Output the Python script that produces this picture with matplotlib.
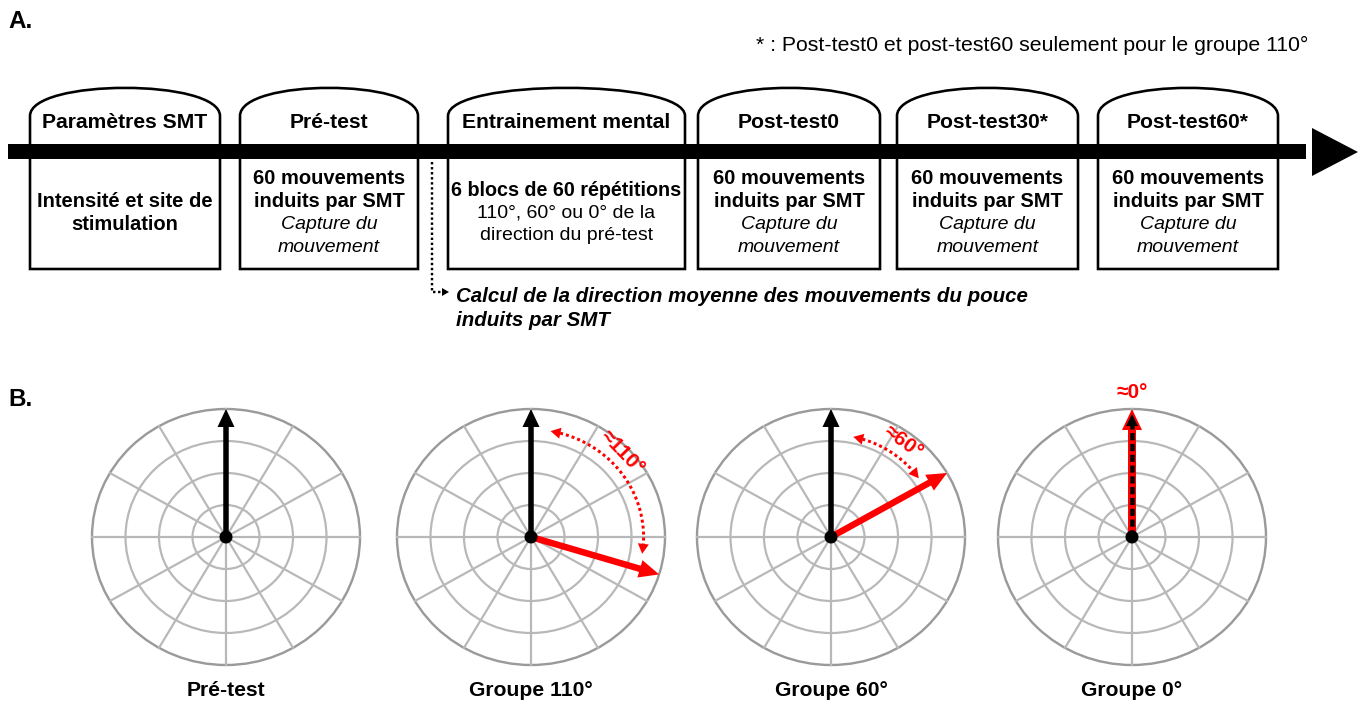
import matplotlib
matplotlib.use("Agg")
import matplotlib.pyplot as plt
import numpy as np
from matplotlib.path import Path
from matplotlib.patches import PathPatch, Ellipse, Polygon, Rectangle

plt.rcParams['font.family'] = ['Liberation Sans', 'DejaVu Sans']

# ---------------- data ----------------
stage_titles = ["Paramètres SMT", "Pré-test", "Entrainement mental",
                "Post-test0", "Post-test30*", "Post-test60*"]
stage_x0 = [30, 240, 448, 698, 897, 1098]
stage_x1 = [220, 418, 685, 880, 1078, 1278]
mvt = [("60 mouvements", "bold"), ("induits par SMT", "bold"),
       ("Capture du", "italic"), ("mouvement", "italic")]
stage_lines = [
    [("Intensité et site de", "bold"), ("stimulation", "bold")],
    mvt,
    [("6 blocs de 60 répétitions", "bold"), ("110°, 60° ou 0° de la", "normal"),
     ("direction du pré-test", "normal")],
    mvt, mvt, mvt,
]
footnote = "* : Post-test0 et post-test60 seulement pour le groupe 110°"
calcul_lines = ["Calcul de la direction moyenne des mouvements du pouce",
                "induits par SMT"]

group_names = ["Pré-test", "Groupe 110°", "Groupe 60°", "Groupe 0°"]
group_cx = [226, 531, 831, 1132]
red_angles = [None, 107, 60, 0]          # red arrow direction (deg, clockwise from up)
arc_span = [None, (10, 99), (12, 55), None]
arc_radius = [None, 0.84, 0.80, None]
arc_labels = [None, "≈110°", "≈60°", "≈0°"]
label_pos = [None, (46, 0.95), (36, 0.92), None]

RED = "#ff0000"
W, H = 1365, 707
fig = plt.figure(figsize=(W / 100, H / 100), dpi=100)
ax = fig.add_axes([0, 0, 1, 1])
ax.set_xlim(0, W)
ax.set_ylim(H, 0)
ax.axis("off")

PT = 72 / 100.0  # points per pixel

# ---------------- Section A ----------------
ax.text(8, 22, "A.", fontsize=17.5, fontweight="bold", va="center", ha="left")
ax.text(1308, 45, footnote, fontsize=15.3, ha="right", va="center")

bar_top, bar_bot = 144, 159
for k, (t, x0, x1) in enumerate(zip(stage_titles, stage_x0, stage_x1)):
    verts = [(x0, 269), (x0, 116),
             (x0, 78.5), (x1, 78.5), (x1, 116),
             (x1, 269), (x0, 269)]
    codes = [Path.MOVETO, Path.LINETO,
             Path.CURVE4, Path.CURVE4, Path.CURVE4,
             Path.LINETO, Path.CLOSEPOLY]
    ax.add_patch(PathPatch(Path(verts, codes), facecolor="white", edgecolor="black",
                           lw=2.6 * PT, zorder=2, joinstyle="miter"))
    cx = (x0 + x1) / 2
    ax.text(cx, 123, t, fontsize=15.2, fontweight="bold", ha="center", va="center", zorder=5)
    lines = stage_lines[k]
    n = len(lines)
    for i, (s, st) in enumerate(lines):
        y = 213 + (i - (n - 1) / 2) * 23
        if st == "bold":
            fs = 14.5 if len(s) < 22 else 14.2
            ax.text(cx, y, s, fontsize=fs, fontweight="bold", ha="center", va="center", zorder=5)
        elif st == "italic":
            ax.text(cx, y, s, fontsize=14, fontstyle="italic", ha="center", va="center", zorder=5)
        else:
            ax.text(cx, y, s, fontsize=14, ha="center", va="center", zorder=5)

# timeline bar + arrow head
ax.add_patch(Rectangle((8, bar_top), 1306 - 8, bar_bot - bar_top, facecolor="black",
                       edgecolor="none", zorder=4))
ax.add_patch(Polygon([(1312, 128), (1358, 152), (1312, 176)], closed=True,
                     facecolor="black", edgecolor="none", zorder=4))

# dotted connector
ax.plot([432, 432, 443], [162, 292, 292], color="black", lw=2.4 * PT,
        linestyle=(0, (1, 1.1)), zorder=3)
ax.add_patch(Polygon([(442, 288), (449, 292), (442, 296)], closed=True,
                     facecolor="black", edgecolor="none", zorder=3))
for i, s in enumerate(calcul_lines):
    ax.text(456, 296 + i * 24, s, fontsize=14.75, fontweight="bold", fontstyle="italic",
            ha="left", va="center")

# ---------------- Section B ----------------
ax.text(8, 400, "B.", fontsize=17.5, fontweight="bold", va="center", ha="left")

cy = 537
rx, ry = 134, 128


def pt(cx, ang, r):
    a = np.deg2rad(ang)
    return cx + r * rx * np.sin(a), cy - r * ry * np.cos(a)


def arrow(x0, y0, x1, y1, color, shaft, hl, hw, z, ls="-"):
    dx, dy = x1 - x0, y1 - y0
    L = np.hypot(dx, dy)
    ux, uy = dx / L, dy / L
    bx, by = x1 - ux * hl, y1 - uy * hl
    ax.plot([x0, bx + ux * 2], [y0, by + uy * 2], color=color, lw=shaft * PT,
            solid_capstyle="butt", dash_capstyle="butt", linestyle=ls, zorder=z)
    px, py = -uy, ux
    ax.add_patch(Polygon([(x1, y1), (bx + px * hw / 2, by + py * hw / 2),
                          (bx - px * hw / 2, by - py * hw / 2)], closed=True,
                         facecolor=color, edgecolor="none", zorder=z + 0.1))


for g in range(4):
    cx = group_cx[g]
    # grid
    for f in (0.25, 0.5, 0.75):
        ax.add_patch(Ellipse((cx, cy), 2 * rx * f, 2 * ry * f, fill=False,
                             edgecolor="#b8b8b8", lw=2.2 * PT, zorder=1))
    ax.add_patch(Ellipse((cx, cy), 2 * rx, 2 * ry, fill=False,
                         edgecolor="#9a9a9a", lw=2.4 * PT, zorder=1))
    for a in range(0, 180, 30):
        xa, ya = pt(cx, a, 1)
        xb, yb = pt(cx, a + 180, 1)
        ax.plot([xa, xb], [ya, yb], color="#b8b8b8", lw=2.2 * PT, zorder=1)

    tx, ty = pt(cx, 0, 1.0)
    if g < 3:
        arrow(cx, cy, tx, ty, "black", 5.5, 18, 17, 6)
    if g in (1, 2):
        rx1, ry1 = pt(cx, red_angles[g], 1.0)
        arrow(cx, cy, rx1, ry1, RED, 6.5, 20, 18, 7)
        a0, a1 = arc_span[g]
        rr = arc_radius[g]
        angs = np.linspace(a0 + 5, a1 - 5, 60)
        xs, ys = zip(*[pt(cx, a, rr) for a in angs])
        ax.plot(xs, ys, color=RED, lw=3 * PT, linestyle=(0, (1, 1)), zorder=7)
        # arrow heads at arc ends
        for end, prev in ((a0, a0 + 5), (a1, a1 - 5)):
            ex, ey = pt(cx, end, rr)
            qx, qy = pt(cx, prev, rr)
            dx, dy = ex - qx, ey - qy
            L = np.hypot(dx, dy)
            ux, uy = dx / L, dy / L
            bx, by = ex - ux * 10, ey - uy * 10
            ax.add_patch(Polygon([(ex, ey), (bx - uy * 5.5, by + ux * 5.5),
                                  (bx + uy * 5.5, by - ux * 5.5)], closed=True,
                                 facecolor=RED, edgecolor="none", zorder=7))
        la, lr = label_pos[g]
        lx, ly = pt(cx, la, lr)
        ax.text(lx, ly, arc_labels[g], color=RED, fontsize=15, fontweight="bold",
                rotation=-la, ha="center", va="center", rotation_mode="anchor", zorder=8)
    if g == 3:
        x1, y1 = pt(cx, red_angles[g], 1.0)
        arrow(cx, cy, x1, y1, RED, 8, 21, 20, 6)
        # black dashed arrow on top
        ax.plot([cx, x1], [cy, y1 + 14], color="black", lw=4.5 * PT,
                linestyle=(0, (1.6, 0.8)), dash_capstyle="butt", zorder=6.5)
        ax.add_patch(Polygon([(x1, y1 + 5), (x1 - 6, y1 + 17), (x1 + 6, y1 + 17)],
                             closed=True, facecolor="black", edgecolor="none", zorder=6.6))
        ax.text(cx, 392, arc_labels[g], color=RED, fontsize=15, fontweight="bold",
                ha="center", va="center")

    ax.add_patch(Ellipse((cx, cy), 13, 13, facecolor="black", edgecolor="none", zorder=9))
    ax.text(cx, 691, group_names[g], fontsize=15.2, fontweight="bold",
            ha="center", va="center")

fig.savefig("out.png", dpi=100)
